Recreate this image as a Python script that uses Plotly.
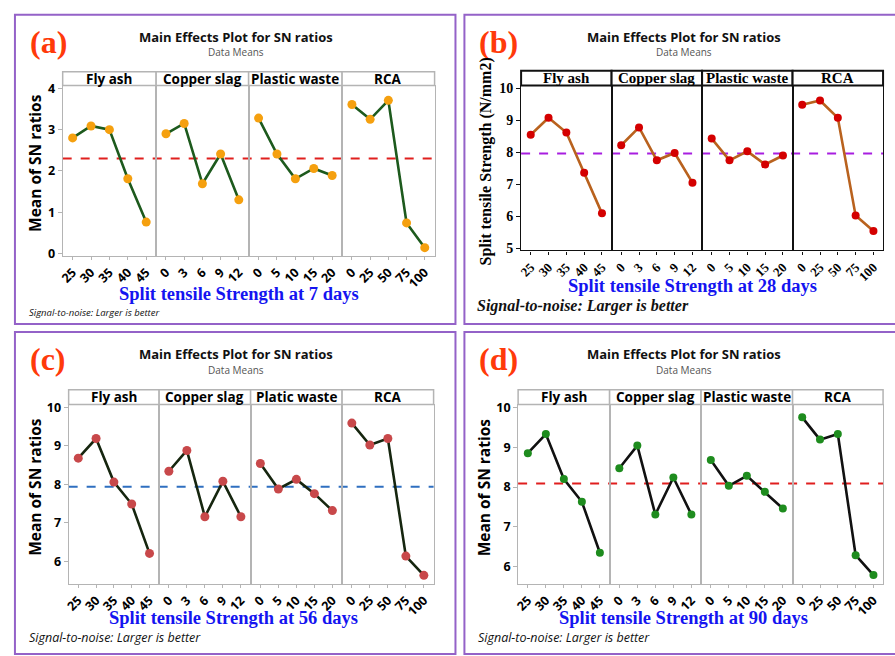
import plotly.graph_objects as go

# ---------------- data ----------------
factors_abd = ["Fly ash", "Copper slag", "Plastic waste", "RCA"]
factors_c = ["Fly ash", "Copper slag", "Platic waste", "RCA"]

levels_fly = ["25", "30", "35", "40", "45"]
levels_cu = ["0", "3", "6", "9", "12"]
levels_pw = ["0", "5", "10", "15", "20"]
levels_rca = ["0", "25", "50", "75", "100"]

# (a) 7 days
a_fly = [2.80, 3.09, 3.00, 1.81, 0.76]
a_cu = [2.90, 3.15, 1.69, 2.41, 1.30]
a_pw = [3.28, 2.41, 1.81, 2.06, 1.89]
a_rca = [3.61, 3.25, 3.71, 0.74, 0.14]
# (b) 28 days
b_fly = [8.55, 9.08, 8.62, 7.36, 6.09]
b_cu = [8.22, 8.78, 7.75, 7.98, 7.05]
b_pw = [8.43, 7.75, 8.03, 7.62, 7.90]
b_rca = [9.49, 9.62, 9.08, 6.02, 5.54]
# (c) 56 days
c_fly = [8.68, 9.19, 8.06, 7.49, 6.21]
c_cu = [8.34, 8.88, 7.16, 8.08, 7.16]
c_pw = [8.54, 7.88, 8.13, 7.76, 7.32]
c_rca = [9.59, 9.02, 9.19, 6.14, 5.64]
# (d) 90 days
d_fly = [8.85, 9.33, 8.20, 7.63, 6.35]
d_cu = [8.47, 9.04, 7.31, 8.24, 7.31]
d_pw = [8.68, 8.03, 8.28, 7.88, 7.46]
d_rca = [9.75, 9.19, 9.33, 6.29, 5.79]

grand_means = [2.30, 7.96, 7.94, 8.09]
panel_labels = ["(a)", "(b)", "(c)", "(d)"]
x_titles = ["Split tensile Strength at 7 days", "Split tensile Strength at 28 days",
            "Split tensile Strength at 56 days", "Split tensile Strength at 90 days"]
y_titles = ["Mean of SN ratios", "Split tensile Strength (N/mm2)",
            "Mean of SN ratios", "Mean of SN ratios"]
y_tick_vals = [[0, 1, 2, 3, 4], [5, 6, 7, 8, 9, 10], [6, 7, 8, 9, 10], [6, 7, 8, 9, 10]]
main_title = "Main Effects Plot for SN ratios"
sub_title = "Data Means"
sn_note = "Signal-to-noise: Larger is better"

levels_all = [levels_fly, levels_cu, levels_pw, levels_rca]
values_all = [
    [a_fly, a_cu, a_pw, a_rca],
    [b_fly, b_cu, b_pw, b_rca],
    [c_fly, c_cu, c_pw, c_rca],
    [d_fly, d_cu, d_pw, d_rca],
]
factor_names = [factors_abd, factors_abd, factors_c, factors_abd]

# ---------------- layout / style ----------------
W, H = 895, 656
SANS = "Open Sans, Noto Sans, DejaVu Sans, sans-serif"
SERIF = "Liberation Serif, Times New Roman, serif"

panels = [
    dict(x0=58, x1=432, div=[152, 245, 339], st=67, pt=81, pb=255, yr=[-0.07, 4.07],
         line="#1d5a1d", mk="#f5a00f", ms=9, hl="#e0201e", frame="#b4b4b4", fw=1,
         font=SANS, serif=False, lab=(23, 37), title=(232, 32, 47),
         xt=(235, 293), note=(22, 312, 9.5), yt=(30, 160), box=(10, 9, 453, 324)),
    dict(x0=519, x1=883, div=[610, 701, 792], st=66, pt=81, pb=249, yr=[4.93, 10.09],
         line="#b9621e", mk="#d40000", ms=8, hl="#a81ee0", frame="#111111", fw=1.3,
         font=SERIF, serif=True, lab=(475, 37), title=(683, 32, 47),
         xt=(691, 285), note=(473, 306, 16), yt=(484, 158), box=(462, 9, 897, 324)),
    dict(x0=64, x1=431, div=[155, 247, 339], st=391, pt=406, pb=589, yr=[5.41, 10.07],
         line="#16260f", mk="#c8484a", ms=9, hl="#2f6fc0", frame="#b4b4b4", fw=1,
         font=SANS, serif=False, lab=(23, 360), title=(232, 354, 371),
         xt=(230, 623), note=(22, 643, 12.5), yt=(30, 490), box=(10, 332, 453, 660)),
    dict(x0=516, x1=883, div=[608, 700, 792], st=391, pt=406, pb=589, yr=[5.56, 10.07],
         line="#111111", mk="#1e8c1e", ms=8, hl="#e01e1e", frame="#b4b4b4", fw=1,
         font=SANS, serif=False, lab=(475, 360), title=(683, 354, 371),
         xt=(682, 623), note=(474, 643, 12.5), yt=(482, 490), box=(462, 332, 897, 660)),
]


def px(x):
    return x / W


def py(y):
    return 1 - y / H


fig = go.Figure()
layout = dict(width=W, height=H, autosize=False, margin=dict(l=0, r=0, t=0, b=0),
              paper_bgcolor="white", plot_bgcolor="white", showlegend=False)
shapes = []
annotations = []

k = 0
for p_i, P in enumerate(panels):
    bounds = [P["x0"]] + P["div"] + [P["x1"]]
    first_k = k + 1
    tf = dict(family=P["font"], size=14 if P["serif"] else 12.5, color="black", weight="bold")
    for f_i in range(4):
        k += 1
        xa = "xaxis" if k == 1 else f"xaxis{k}"
        ya = "yaxis" if k == 1 else f"yaxis{k}"
        xs = "x" if k == 1 else f"x{k}"
        ys = "y" if k == 1 else f"y{k}"
        fig.add_trace(go.Scatter(
            x=levels_all[f_i], y=values_all[p_i][f_i], xaxis=xs, yaxis=ys,
            mode="lines+markers",
            line=dict(color=P["line"], width=2.6),
            marker=dict(color=P["mk"], size=P["ms"], line=dict(width=0)),
            hoverinfo="x+y",
        ))
        layout[xa] = dict(
            domain=[px(bounds[f_i]), px(bounds[f_i + 1])], anchor=ys,
            type="category", range=[-0.54, 4.54],
            showline=True, mirror=True, linecolor=P["frame"], linewidth=P["fw"],
            showgrid=False, zeroline=False, ticks="outside", ticklen=3,
            tickcolor=P["frame"], tickangle=-45,
            tickfont=dict(family=P["font"], size=13 if P["serif"] else 12.5, color="black", weight="bold"),
        )
        yd = dict(
            domain=[py(P["pb"]), py(P["pt"])], anchor=xs, range=P["yr"],
            showline=True, mirror=True, linecolor=P["frame"], linewidth=P["fw"],
            showgrid=False, zeroline=False,
        )
        if f_i == 0:
            yd.update(tickvals=y_tick_vals[p_i], ticks="outside", ticklen=4,
                      tickcolor=P["frame"], tickfont=tf)
        else:
            yd.update(showticklabels=False, ticks="", matches="y" if first_k == 1 else f"y{first_k}")
        layout[ya] = yd
        # strip header
        shapes.append(dict(type="rect", xref="paper", yref="paper",
                           x0=px(bounds[f_i]), x1=px(bounds[f_i + 1]),
                           y0=py(P["pt"]), y1=py(P["st"]),
                           line=dict(color=P["frame"], width=P["fw"] + (0.7 if P["serif"] else 0.5)),
                           fillcolor="white"))
        annotations.append(dict(
            text=factor_names[p_i][f_i], xref="paper", yref="paper",
            x=px((bounds[f_i] + bounds[f_i + 1]) / 2), y=py((P["st"] + P["pt"]) / 2),
            xanchor="center", yanchor="middle", showarrow=False,
            font=dict(family=P["font"], size=15 if P["serif"] else 13.5, color="black", weight="bold"),
        ))
    # grand mean line
    shapes.append(dict(type="line", xref="paper", yref="y" if first_k == 1 else f"y{first_k}",
                       x0=px(P["x0"]), x1=px(P["x1"]), y0=grand_means[p_i], y1=grand_means[p_i],
                       line=dict(color=P["hl"], width=2, dash="dash"), layer="below"))
    # panel border
    bx0, by0, bx1, by1 = P["box"]
    shapes.append(dict(type="rect", xref="paper", yref="paper",
                       x0=px(bx0), x1=px(bx1), y0=py(by1), y1=py(by0),
                       line=dict(color="#9462c8", width=2)))
    # panel label
    annotations.append(dict(text=f"<b>{panel_labels[p_i]}</b>", xref="paper", yref="paper",
                            x=px(P["lab"][0]), y=py(P["lab"][1]), xanchor="left", yanchor="middle",
                            showarrow=False, font=dict(family=SERIF, size=32, color="#ff3a0a")))
    # titles
    annotations.append(dict(text=main_title, xref="paper", yref="paper",
                            x=px(P["title"][0]), y=py(P["title"][1]), xanchor="center", yanchor="middle",
                            showarrow=False, font=dict(family=SANS, size=13, color="#111", weight="bold")))
    annotations.append(dict(text=sub_title, xref="paper", yref="paper",
                            x=px(P["title"][0]), y=py(P["title"][2]), xanchor="center", yanchor="middle",
                            showarrow=False, font=dict(family=SANS, size=10, color="#555")))
    # x title
    annotations.append(dict(text=f"<b>{x_titles[p_i]}</b>", xref="paper", yref="paper",
                            x=px(P["xt"][0]), y=py(P["xt"][1]), xanchor="center", yanchor="middle",
                            showarrow=False, font=dict(family=SERIF, size=18.5, color="#1414f0")))
    # y title
    annotations.append(dict(text=y_titles[p_i], xref="paper", yref="paper", textangle=-90,
                            x=px(P["yt"][0]), y=py(P["yt"][1]), xanchor="center", yanchor="middle",
                            showarrow=False,
                            font=dict(family=P["font"], size=16 if P["serif"] else 15.5, color="black",
                                      weight="bold")))
    # note
    if P["serif"]:
        nfont = dict(family=SERIF, size=P["note"][2], color="#111", weight="bold", style="italic")
    else:
        nfont = dict(family=SANS, size=P["note"][2], color="#111", style="italic")
    annotations.append(dict(text=sn_note, xref="paper", yref="paper",
                            x=px(P["note"][0]), y=py(P["note"][1]), xanchor="left", yanchor="middle",
                            showarrow=False, font=nfont))

layout["shapes"] = shapes
layout["annotations"] = annotations
fig.update_layout(**layout)
fig.write_html("out.html")
